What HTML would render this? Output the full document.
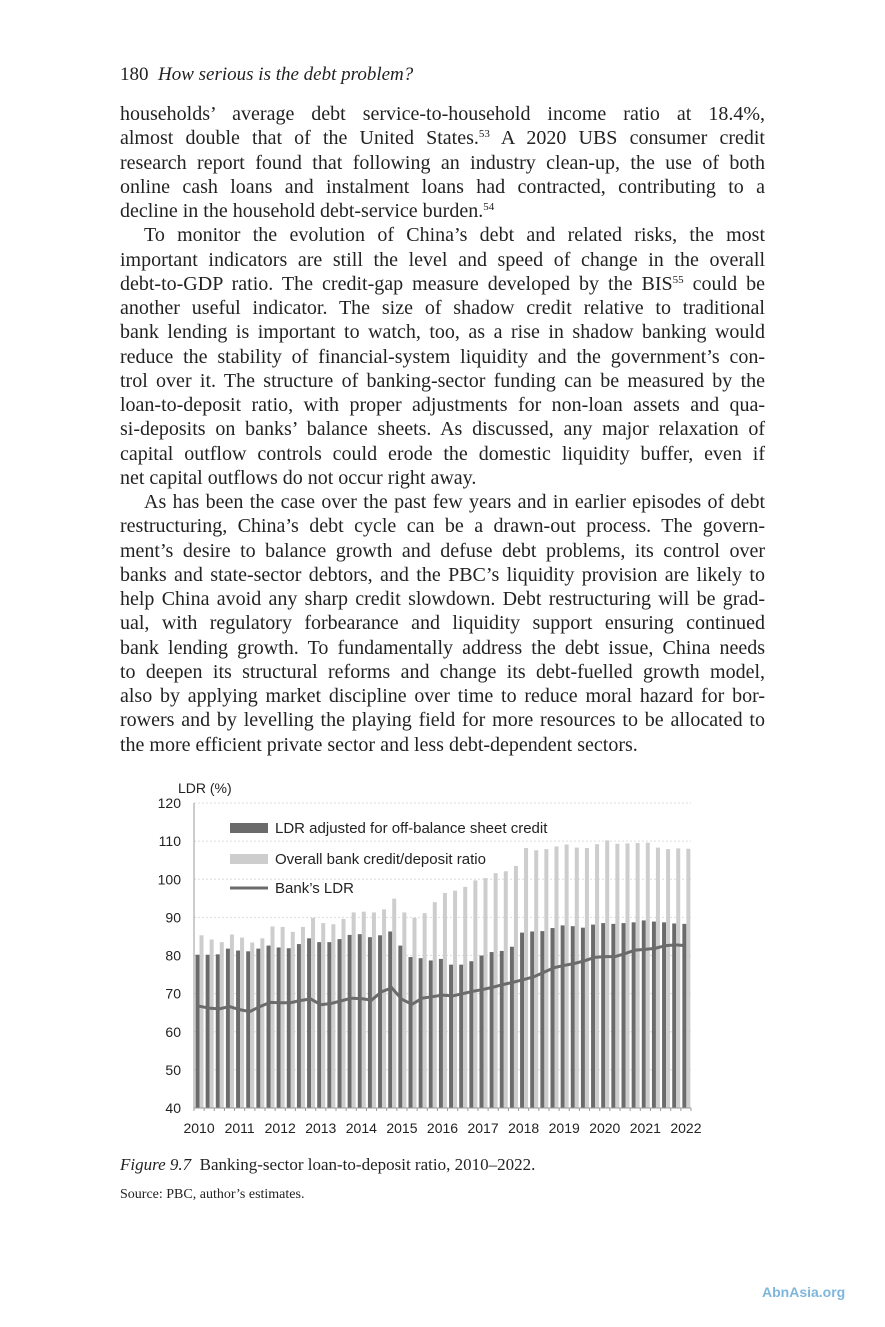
<!DOCTYPE html>
<html><head><meta charset="utf-8"><style>
body{margin:0;background:#fff;width:885px;height:1327px;position:relative;overflow:hidden;font-family:"Liberation Serif",serif;color:#222}
.hdr{position:absolute;left:120px;top:64px;font-size:19px}
.txt{position:absolute;left:120px;top:102px;width:645px;font-size:20px;line-height:24.25px}
.l{height:24.25px;text-align:justify;text-align-last:justify;white-space:nowrap;overflow:visible}
.e{text-align-last:left}
.i{text-indent:24px}
.s{font-size:11px;line-height:0;vertical-align:7px}
.cap{position:absolute;left:120px;top:1155px;font-size:17px}
.src{position:absolute;left:120px;top:1187px;font-size:14px}
svg text{font-family:"Liberation Sans",sans-serif}
</style></head><body>
<div class="hdr">180&nbsp;&nbsp;<i>How serious is the debt problem?</i></div>
<div class="txt">
<div class="l">households’ average debt service-to-household income ratio at 18.4%,</div>
<div class="l">almost double that of the United States.<span class="s">53</span> A 2020 UBS consumer credit</div>
<div class="l">research report found that following an industry clean-up, the use of both</div>
<div class="l">online cash loans and instalment loans had contracted, contributing to a</div>
<div class="l e">decline in the household debt-service burden.<span class="s">54</span></div>
<div class="l i">To monitor the evolution of China’s debt and related risks, the most</div>
<div class="l">important indicators are still the level and speed of change in the overall</div>
<div class="l">debt-to-GDP ratio. The credit-gap measure developed by the BIS<span class="s">55</span> could be</div>
<div class="l">another useful indicator. The size of shadow credit relative to traditional</div>
<div class="l">bank lending is important to watch, too, as a rise in shadow banking would</div>
<div class="l">reduce the stability of financial-system liquidity and the government’s con-</div>
<div class="l">trol over it. The structure of banking-sector funding can be measured by the</div>
<div class="l">loan-to-deposit ratio, with proper adjustments for non-loan assets and qua-</div>
<div class="l">si-deposits on banks’ balance sheets. As discussed, any major relaxation of</div>
<div class="l">capital outflow controls could erode the domestic liquidity buffer, even if</div>
<div class="l e">net capital outflows do not occur right away.</div>
<div class="l i">As has been the case over the past few years and in earlier episodes of debt</div>
<div class="l">restructuring, China’s debt cycle can be a drawn-out process. The govern-</div>
<div class="l">ment’s desire to balance growth and defuse debt problems, its control over</div>
<div class="l">banks and state-sector debtors, and the PBC’s liquidity provision are likely to</div>
<div class="l">help China avoid any sharp credit slowdown. Debt restructuring will be grad-</div>
<div class="l">ual, with regulatory forbearance and liquidity support ensuring continued</div>
<div class="l">bank lending growth. To fundamentally address the debt issue, China needs</div>
<div class="l">to deepen its structural reforms and change its debt-fuelled growth model,</div>
<div class="l">also by applying market discipline over time to reduce moral hazard for bor-</div>
<div class="l">rowers and by levelling the playing field for more resources to be allocated to</div>
<div class="l e">the more efficient private sector and less debt-dependent sectors.</div>
</div>
<svg id="chart" width="885" height="1327" style="position:absolute;left:0;top:0"></svg>
<div class="cap"><i>Figure 9.7</i>&nbsp; Banking-sector loan-to-deposit ratio, 2010–2022.</div>
<div class="src">Source: PBC, author’s estimates.</div>
<div style="position:absolute;left:762px;top:1284px;font:bold 14px 'Liberation Sans',sans-serif;color:#7fb6dc">AbnAsia.org</div>
<script>
const years=["2010","2011","2012","2013","2014","2015","2016","2017","2018","2019","2020","2021","2022"];
const yTicks=[40,50,60,70,80,90,100,110,120];
const adjusted=[80.2,80.2,80.3,81.8,81.3,81.1,81.8,82.6,82.1,81.9,83,84.5,83.5,83.5,84.3,85.4,85.6,84.8,85.3,86.3,82.6,79.6,79.3,78.7,79.1,77.6,77.6,78.5,80,80.9,81.2,82.3,86,86.3,86.4,87.2,87.9,87.7,87.3,88.1,88.5,88.3,88.5,88.7,89.2,88.9,88.7,88.4,88.3];
const overall=[85.3,84.2,83.5,85.5,84.7,83.4,84.5,87.6,87.5,86.2,87.5,89.9,88.5,88.2,89.6,91.3,91.5,91.3,92.1,94.9,91.3,89.9,91.1,94,96.4,97,98,99.7,100.3,101.6,102.1,103.5,108.2,107.6,107.9,108.6,109.1,108.3,108.2,109.2,110.2,109.3,109.4,109.5,109.6,108.3,107.9,108.1,108];
const banksLdr=[66.7,66.2,66,66.6,65.8,65.3,66.6,67.7,67.6,67.6,68.2,68.6,67.1,67.4,68.1,68.8,68.7,68.3,70.5,71.5,68.5,67.2,68.8,69.2,69.6,69.4,70,70.6,71.1,71.7,72.4,73,73.7,74.4,75.6,76.8,77.4,77.9,78.6,79.5,79.7,79.7,80.5,81.4,81.6,81.9,82.6,82.8,82.6];
const svg=document.getElementById('chart');const NS='http://www.w3.org/2000/svg';
const X0=194,X1=691,Y0=1108,Y1=803,n=adjusted.length,gw=(X1-X0)/n;
const y=v=>Y0-(v-40)/80*(Y0-Y1);
const gx=i=>X0+i*gw;
function mk(t,a){const e=document.createElementNS(NS,t);for(const k in a)e.setAttribute(k,a[k]);svg.appendChild(e);return e;}
yTicks.forEach(v=>{
 if(v>40){const g=mk('line',{x1:X0,x2:X1,y1:y(v),y2:y(v),stroke:'#ddd','stroke-dasharray':'2,2'});
 
 }
 const t=mk('text',{x:181,y:y(v)+5,'text-anchor':'end','font-size':14,fill:'#222'});t.textContent=v;
 
 
});
const yt=mk('text',{x:178,y:793,'font-size':14,fill:'#222'});yt.textContent='LDR (%)';


adjusted.forEach((v,i)=>{
 const b=mk('rect',{x:gx(i)+1.5,y:y(v),width:4,height:Y0-y(v),fill:'#6b6b6b'});
 
 
 const c=mk('rect',{x:gx(i)+5.5,y:y(overall[i]),width:4,height:Y0-y(overall[i]),fill:'#cdcdcd'});
 
 
});
const pl=mk('polyline',{points:banksLdr.map((v,i)=>(gx(i)+gw/2)+','+y(v)).join(' '),fill:'none',stroke:'#6b6b6b','stroke-width':3});


const ax=mk('line',{x1:X0,x2:X0,y1:Y1,y2:Y0,stroke:'#999'});


const bx=mk('line',{x1:X0,x2:X1,y1:Y0,y2:Y0,stroke:'#999'});


for(let i=0;i<=n;i++){const tk=mk('line',{x1:gx(i),x2:gx(i),y1:Y0,y2:Y0+3,stroke:'#999'});
 
 }
years.forEach((yr,k)=>{const t=mk('text',{x:gx(k*4)+gw/2,y:1133,'text-anchor':'middle','font-size':14,fill:'#222'});t.textContent=yr;
 
 });
const leg=[['rect','#6b6b6b','LDR adjusted for off-balance sheet credit',828],['rect','#cdcdcd','Overall bank credit/deposit ratio',859],['line','#6b6b6b','Bank’s LDR',888]];
leg.forEach(L=>{
 let s;if(L[0]=='rect')s=mk('rect',{x:230,y:L[3]-5,width:38,height:10,fill:L[1]});
 else s=mk('line',{x1:230,x2:268,y1:L[3],y2:L[3],stroke:L[1],'stroke-width':3});
 
 
 const t=mk('text',{x:275,y:L[3]+5,'font-size':15,fill:'#222'});t.textContent=L[2];
 
 
});
</script>
</body></html>
